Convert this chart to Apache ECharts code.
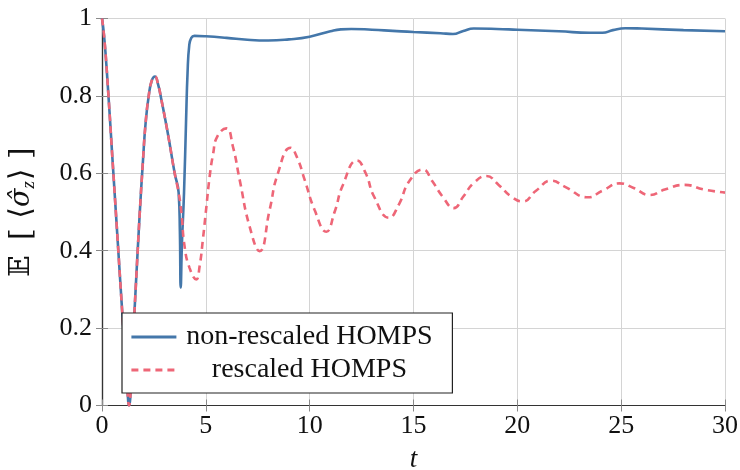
<!DOCTYPE html>
<html>
<head>
<meta charset="utf-8">
<script src="https://cdn.jsdelivr.net/npm/echarts@6/dist/echarts.min.js"></script>
<style>
  html, body { margin: 0; padding: 0; background: #fff; }
  #chart { width: 740px; height: 470px; }
</style>
</head>
<body>
<div id="chart"></div>
<script>
// Time axis samples and expectation values of sigma_z
const tRescaled = [0, 0.1, 0.25, 0.5, 0.75, 1.0, 1.2, 1.3, 1.45, 1.62, 1.81, 1.97, 2.1, 2.25, 2.4, 2.55, 2.7, 2.86, 3.18, 3.5, 3.69,
  3.82, 3.98, 4.22, 4.54, 4.7, 4.86, 5.02, 5.18, 5.35, 5.55, 5.99, 6.3, 6.63, 7.11, 7.59, 8.07, 8.47, 9.08, 9.4, 9.76, 10.24, 10.8,
  11.2, 11.6, 12.28, 12.7, 13.1, 13.82, 14.3, 14.8, 15.46, 15.9, 16.4, 16.94, 17.4, 17.9, 18.51, 19.1, 19.7, 20.27, 20.9,
  21.64, 22.3, 23.4, 24.1, 24.93, 25.6, 26.38, 27.1, 28.06, 29, 30];
const sigmaRescaled = [1, 0.955, 0.85, 0.64, 0.43, 0.22, 0.06, 0.0, 0.13, 0.3, 0.49, 0.63, 0.73, 0.8, 0.84, 0.85, 0.83, 0.79, 0.7, 0.6, 0.55,
  0.5, 0.41, 0.355, 0.326, 0.36, 0.43, 0.51, 0.59, 0.65, 0.695, 0.716, 0.67, 0.583, 0.462, 0.399, 0.505, 0.6, 0.666, 0.64, 0.583, 0.505, 0.449,
  0.5, 0.57, 0.633, 0.6, 0.54, 0.485, 0.52, 0.58, 0.61, 0.58, 0.54, 0.51, 0.54, 0.575, 0.593, 0.57, 0.54, 0.527, 0.555,
  0.581, 0.565, 0.538, 0.555, 0.574, 0.562, 0.544, 0.558, 0.57, 0.558, 0.55];

const tPlain = [0, 0.1, 0.25, 0.5, 0.75, 1.0, 1.2, 1.3, 1.45, 1.62, 1.81, 1.97, 2.1, 2.25, 2.4, 2.55, 2.7, 2.86, 3.18, 3.5, 3.69,
  3.75, 3.79, 3.85, 3.95, 4.05, 4.12, 4.2, 4.3, 4.45, 5, 6, 7, 8, 9, 10, 11, 11.5, 12, 13, 14, 15, 16.3, 16.9, 17.4, 17.9,
  19, 20, 22, 23.5, 24.1, 24.6, 25.2, 26, 28, 30];
const sigmaPlain = [1, 0.955, 0.85, 0.64, 0.43, 0.22, 0.06, 0.0, 0.13, 0.3, 0.49, 0.63, 0.73, 0.8, 0.84, 0.85, 0.83, 0.79, 0.7, 0.6, 0.55,
  0.45, 0.305, 0.42, 0.55, 0.74, 0.86, 0.93, 0.95, 0.955, 0.954, 0.95, 0.945, 0.943, 0.946, 0.953, 0.967, 0.972, 0.973, 0.971, 0.968, 0.965, 0.962, 0.96, 0.968, 0.974,
  0.973, 0.971, 0.967, 0.963, 0.963, 0.97, 0.975, 0.974, 0.97, 0.967];

const seriesNames = ['non-rescaled HOMPS', 'rescaled HOMPS'];
const xTicks = [0, 5, 10, 15, 20, 25, 30];
const yTicks = [0, 0.2, 0.4, 0.6, 0.8, 1];

const pair = (xs, ys) => xs.map((x, i) => [x, ys[i]]);

const FONT = 'Liberation Serif';
const BLUE = '#4477AA';
const RED = '#EE6677';
const gridColor = '#d4d4d4';
const tickStyle = { show: true, inside: true, length: 6, lineStyle: { color: '#8a8a8a', width: 1 } };

const chart = echarts.init(document.getElementById('chart'), null, { renderer: 'canvas' });

const xBase = {
  type: 'value', min: xTicks[0], max: xTicks[xTicks.length - 1], interval: 5,
  axisLine: { show: true, lineStyle: { color: '#333', width: 1.2 } },
  axisTick: tickStyle,
  splitLine: { show: false }
};
const yBase = {
  type: 'value', min: yTicks[0], max: yTicks[yTicks.length - 1], interval: 0.2,
  axisLine: { show: true, lineStyle: { color: '#333', width: 1.2 } },
  axisTick: tickStyle,
  splitLine: { show: false }
};

chart.setOption({
  animation: false,
  backgroundColor: '#fff',
  grid: { left: 102, right: 15, top: 18.5, bottom: 64.5, containLabel: false, outerBoundsMode: 'none' },
  xAxis: [
    Object.assign({}, xBase, {
      position: 'bottom',
      splitLine: { show: true, lineStyle: { color: gridColor, width: 1 } },
      axisLabel: { fontFamily: FONT, fontSize: 26, color: '#111', margin: 8,
        formatter: v => String(v) },
      name: 't', nameLocation: 'middle', nameGap: 41,
      nameTextStyle: { fontFamily: FONT, fontStyle: 'italic', fontSize: 27, color: '#111' }
    }),
    Object.assign({}, xBase, { position: 'top', axisLabel: { show: false } })
  ],
  yAxis: [
    Object.assign({}, yBase, {
      position: 'left',
      splitLine: { show: true, lineStyle: { color: gridColor, width: 1 } },
      axisLabel: { fontFamily: FONT, fontSize: 26, color: '#111', margin: 10,
        formatter: v => (v === 0 || v === 1) ? String(v) : v.toFixed(1) },
      name: '{bb|𝔼}{br| [ }{br|⟨}{s|σ̂}{sub|z}{br|⟩}{br| ]}',
      nameLocation: 'middle', nameRotate: 90, nameGap: 64,
      nameTextStyle: {
        fontFamily: FONT, fontSize: 30, color: '#111',
        rich: {
          bb: { fontFamily: 'DejaVu Serif', fontSize: 28, color: '#111', padding: [0, 6, 0, 0] },
          br: { fontFamily: 'DejaVu Serif', fontSize: 30, color: '#111' },
          s: { fontFamily: 'DejaVu Serif', fontStyle: 'italic', fontSize: 27, color: '#111' },
          sub: { fontFamily: FONT, fontStyle: 'italic', fontSize: 19, color: '#111', padding: [13, 1, 0, 0] }
        }
      }
    }),
    Object.assign({}, yBase, { position: 'right', axisLabel: { show: false } })
  ],
  legend: {
    left: 122, top: 313, orient: 'vertical',
    data: seriesNames,
    backgroundColor: '#fff',
    borderColor: '#222', borderWidth: 1.2, borderRadius: 0,
    padding: [10, 15, 9, 8],
    itemGap: 5, itemWidth: 45, itemHeight: 14, itemTextGap: 8,
    itemStyle: { opacity: 0 },
    lineStyle: { width: 2.8 },
    formatter: name => '{c|' + name + '}',
    textStyle: {
      fontFamily: FONT, fontSize: 28, color: '#111',
      rich: { c: { fontFamily: FONT, fontSize: 28, color: '#111', width: 256, align: 'center', lineHeight: 28 } }
    }
  },
  series: [
    {
      name: seriesNames[0], type: 'line', data: pair(tPlain, sigmaPlain),
      symbol: 'none', smooth: 0.5, z: 2,
      lineStyle: { color: BLUE, width: 2.6 },
      itemStyle: { color: BLUE }
    },
    {
      name: seriesNames[1], type: 'line', data: pair(tRescaled, sigmaRescaled),
      symbol: 'none', smooth: 0.5, z: 3,
      lineStyle: { color: RED, width: 2.6, type: [7, 5] },
      itemStyle: { color: RED }
    }
  ]
});
</script>
</body>
</html>
